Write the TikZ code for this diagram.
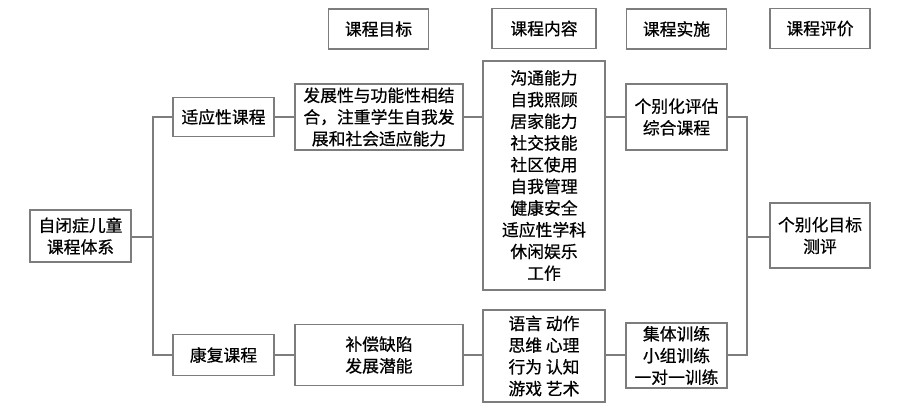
\documentclass[tikz,border=0pt]{standalone}
\usepackage{fontspec}
\setmainfont{Noto Sans CJK SC}[FakeBold=0.6]
\usepackage{tikz}
\usetikzlibrary{positioning}
\definecolor{linegray}{RGB}{125,125,125}
\newcommand{\boxfont}{\fontsize{16.8}{21.7}\selectfont}
\tikzstyle{block} = [draw=linegray, line width=1.3pt, fill=white, rectangle, inner sep=0pt, align=center, font=\boxfont]
\tikzstyle{head} = [block, minimum width=100pt, minimum height=40pt]
\tikzstyle{line} = [draw=linegray, line width=1.3pt]

\begin{document}
\begin{tikzpicture}[auto,x=1pt,y=-1pt]
    \useasboundingbox (0,0) rectangle (923,413);
    \node [head] (hgoal) at (378.5,29) {课程目标};
    \node [head, minimum width=104pt] (hcont) at (544,28.5) {课程内容};
    \node [head] (himpl) at (676.5,29) {课程实施};
    \node [head] (heval) at (820,28.5) {课程评价};
    \node [block, minimum width=101pt, minimum height=52pt] (root) at (80.5,236) {自闭症儿童\\课程体系};
    \node [block, minimum width=101pt, minimum height=39pt] (adapt) at (223.5,117) {适应性课程};
    \node [block, minimum width=101pt, minimum height=41pt] (rehab) at (223.5,355) {康复课程};
    \node [block, minimum width=168pt, minimum height=66pt] (goala) at (379,117) {发展性与功能性相结\\合，注重学生自我发\\展和社会适应能力};
    \node [block, minimum width=168pt, minimum height=61pt] (goalr) at (379,355) {补偿缺陷\\发展潜能};
    \node [block, minimum width=122pt, minimum height=229pt] (conta) at (544,175.5) {沟通能力\\自我照顾\\居家能力\\社交技能\\社区使用\\自我管理\\健康安全\\适应性学科\\休闲娱乐\\工作};
    \node [block, minimum width=122pt, minimum height=92pt] (contr) at (544,356) {语言\ 动作\\思维\ 心理\\行为\ 认知\\游戏\ 艺术};
    \node [block, minimum width=101pt, minimum height=66pt] (impla) at (676.5,117) {个别化评估\\综合课程};
    \node [block, minimum width=101pt, minimum height=65pt] (implr) at (676.5,355.5) {集体训练\\小组训练\\一对一训练};
    \node [block, minimum width=100pt, minimum height=65pt] (eval) at (820,235.5) {个别化目标\\测评};
    \coordinate (split) at (153,237);
    \coordinate (join) at (747,237);
    \draw [line] (root.east |- split) -- (split) |- (adapt.west);
    \draw [line] (split) |- (rehab.west);
    \draw [line] (adapt) -- (goala);
    \draw [line] (goala.east) -- (goala.east -| conta.west);
    \draw [line] (goala.east -| conta.east) -- (impla.west);
    \draw [line] (rehab) -- (goalr);
    \draw [line] (goalr.east) -- (goalr.east -| contr.west);
    \draw [line] (goalr.east -| contr.east) -- (goalr.east -| implr.west);
    \draw [line] (impla.east) -| (join) -- (eval.west |- join);
    \draw [line] (goalr.east -| implr.east) -| (join);
\end{tikzpicture}
\end{document}
